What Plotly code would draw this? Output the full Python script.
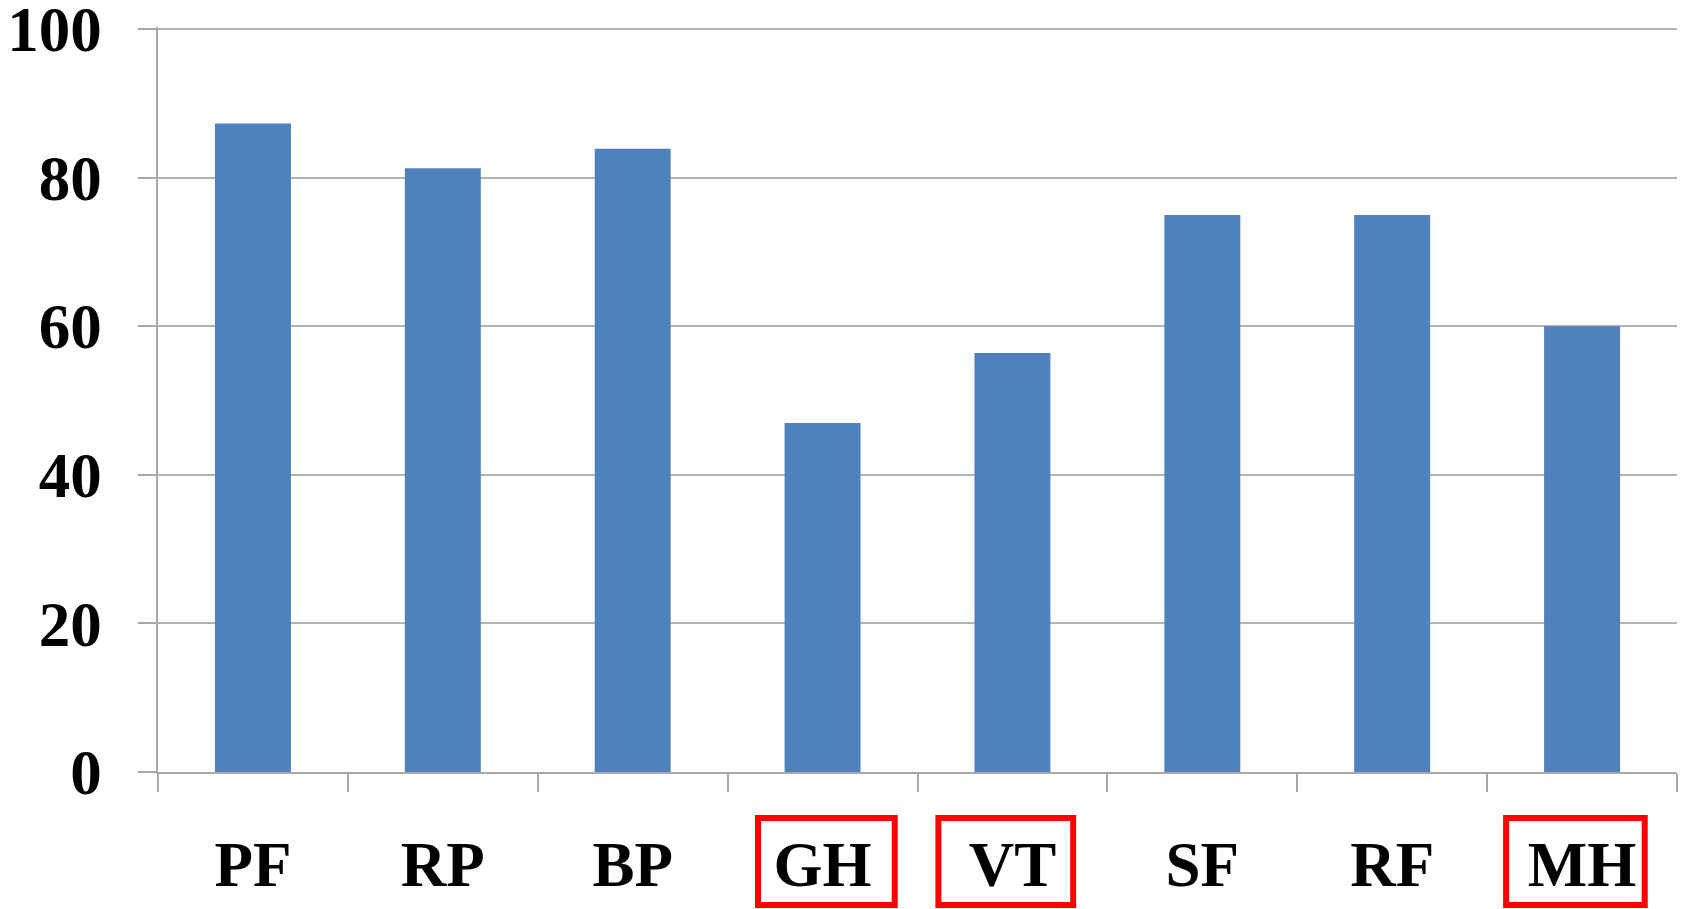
import plotly.graph_objects as go

categories = ["PF", "RP", "BP", "GH", "VT", "SF", "RF", "MH"]
values = [87.3, 81.3, 83.9, 47.0, 56.4, 75.0, 75.0, 60.0]
highlighted = ["GH", "VT", "MH"]
y_ticks = [0, 20, 40, 60, 80, 100]

# page body has an 8px default margin, so the figure is sized to fit the window
W, H = 1680, 901
ML, MR, MT, MB = 150, 11, 19, 137

fig = go.Figure(go.Bar(
    x=categories, y=values,
    marker=dict(color="#4F81BD", line=dict(width=0)),
))

label_font = dict(family="Liberation Serif", size=63, color="black", weight="bold")

fig.update_layout(
    width=W, height=H,
    margin=dict(l=ML, r=MR, t=MT, b=MB, pad=0, autoexpand=False),
    paper_bgcolor="white", plot_bgcolor="white",
    bargap=0.6, showlegend=False,
    font=dict(family="Liberation Serif", size=63, color="black"),
)
fig.update_xaxes(
    type="category", showgrid=False, automargin=False,
    showline=True, linecolor="#a8a8a8", linewidth=1.5,
    ticks="outside", tickson="boundaries", ticklen=18, tickcolor="#a8a8a8", tickwidth=1.5,
    tickfont=label_font,
    ticklabelstandoff=37, ticklabeloverflow="allow",
)
fig.update_yaxes(
    range=[0, 100.3], tickvals=y_ticks, automargin=False,
    showgrid=True, gridcolor="#b3b3b3", gridwidth=1.5,
    showline=True, linecolor="#a8a8a8", linewidth=1.5,
    ticks="outside", ticklen=18, tickcolor="#a8a8a8", tickwidth=1.5,
    tickfont=label_font,
    ticklabelstandoff=24, ticklabeloverflow="allow", zeroline=False,
)

# red highlight boxes around selected category labels
box_offsets = {"GH": (-0.34, 0.38), "VT": (-0.39, 0.32), "MH": (-0.40, 0.33)}
n = len(categories)
for c in highlighted:
    i = categories.index(c)
    lo, hi = box_offsets[c]
    fig.add_shape(
        type="rect", xref="paper", yref="paper",
        x0=(i + 0.5 + lo) / n, x1=(i + 0.5 + hi) / n,
        y0=-0.0617, y1=-0.1785,
        line=dict(color="#ff0000", width=6), fillcolor="rgba(0,0,0,0)",
    )

fig.write_html("out.html")
